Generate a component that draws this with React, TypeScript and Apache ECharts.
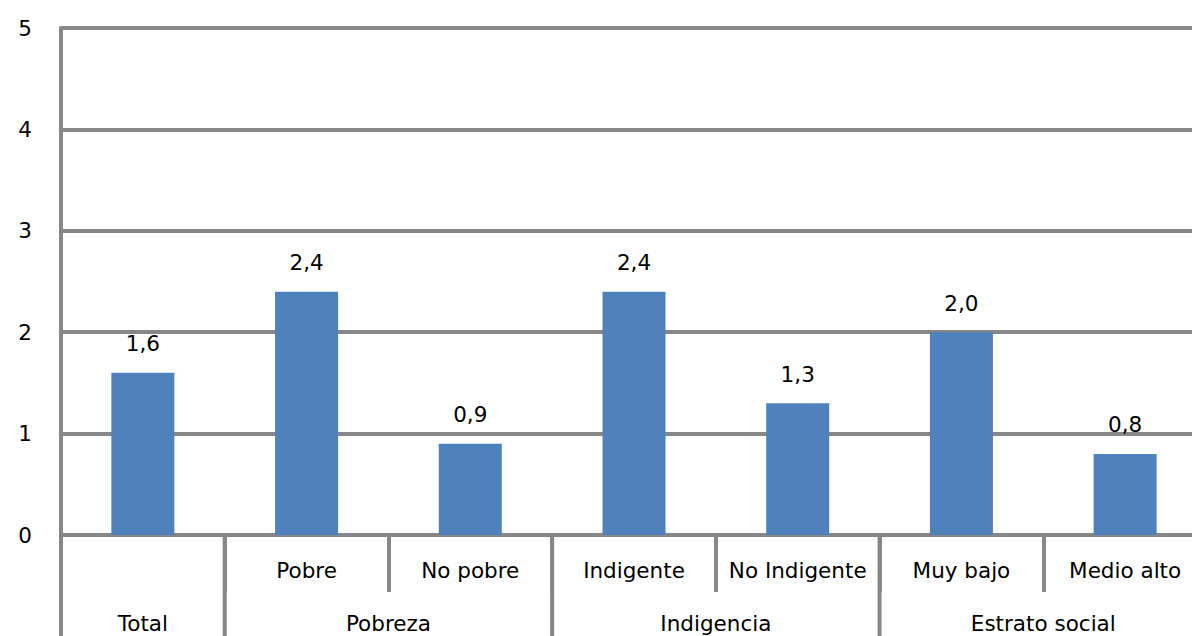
import React, { useEffect, useRef } from "react";
import * as echarts from "echarts";

const categories = ["", "Pobre", "No pobre", "Indigente", "No Indigente", "Muy bajo", "Medio alto"];
const values = [1.6, 2.4, 0.9, 2.4, 1.3, 2.0, 0.8];
const groupNames = ["Total", "Pobreza", "Indigencia", "Estrato social"];
const groupSpans = [1, 2, 2, 2];
const yMin = 0;
const yMax = 5;
const yInterval = 1;

const FONT = "DejaVu Sans";
const FS = 21.5;
const GRID_COLOR = "#878787";
const LINE_W = 4;
const CONTAINER_W = 1240;

export default function App() {
  const ref = useRef<HTMLDivElement>(null);
  useEffect(() => {
    if (!ref.current) return;
    const chart = echarts.init(ref.current, undefined, { renderer: "svg" });
    const gridTop = 28;
    const gridHeight = 507;
    chart.setOption({
      animation: false,
      backgroundColor: "#ffffff",
      grid: { left: 61, top: gridTop, width: 1146, height: gridHeight },
      xAxis: {
        type: "category",
        data: categories,
        boundaryGap: true,
        axisLine: { show: true, lineStyle: { color: GRID_COLOR, width: LINE_W } },
        axisTick: { show: true, length: 57, interval: 0, lineStyle: { color: GRID_COLOR, width: LINE_W } },
        axisLabel: { interval: 0, margin: 25, color: "#000", fontFamily: FONT, fontSize: FS, lineHeight: 20 },
        splitLine: { show: false },
      },
      yAxis: {
        type: "value",
        min: yMin,
        max: yMax,
        interval: yInterval,
        axisLine: { show: true, lineStyle: { color: GRID_COLOR, width: LINE_W } },
        axisTick: { show: false },
        axisLabel: { margin: 29, color: "#000", fontFamily: FONT, fontSize: FS },
        splitLine: { show: true, lineStyle: { color: GRID_COLOR, width: LINE_W } },
      },
      series: [
        {
          type: "bar",
          data: values,
          barWidth: 63,
          itemStyle: { color: "#4F81BD" },
          label: {
            show: true,
            position: "top",
            distance: 18,
            color: "#000",
            fontFamily: FONT,
            fontSize: FS,
            formatter: (p: any) => Number(p.value).toFixed(1).replace(".", ","),
          },
        },
      ],
    });

    const c0 = chart.convertToPixel({ xAxisIndex: 0 }, 0) as number;
    const c1 = chart.convertToPixel({ xAxisIndex: 0 }, 1) as number;
    const bw = c1 - c0;
    const axisY = chart.convertToPixel({ yAxisIndex: 0 }, 0) as number;
    const graphics: any[] = [];
    let start = 0;
    groupSpans.forEach((span, gi) => {
      const left = c0 + (start - 0.5) * bw;
      graphics.push({
        type: "line",
        shape: { x1: left, y1: axisY, x2: left, y2: 700 },
        style: { stroke: GRID_COLOR, lineWidth: LINE_W },
        silent: true,
      });
      const center = c0 + (start - 0.5 + span / 2) * bw;
      graphics.push({
        type: "text",
        x: center,
        y: 623,
        style: {
          text: groupNames[gi],
          fill: "#000",
          font: `${FS}px ${FONT}`,
          textAlign: "center",
          textVerticalAlign: "middle",
        },
        silent: true,
      });
      start += span;
    });
    chart.setOption({ graphic: graphics });
    return () => chart.dispose();
  }, []);
  return (
    <div
      ref={ref}
      style={{ position: "fixed", left: 0, top: 0, width: CONTAINER_W, height: 636 }}
    />
  );
}
